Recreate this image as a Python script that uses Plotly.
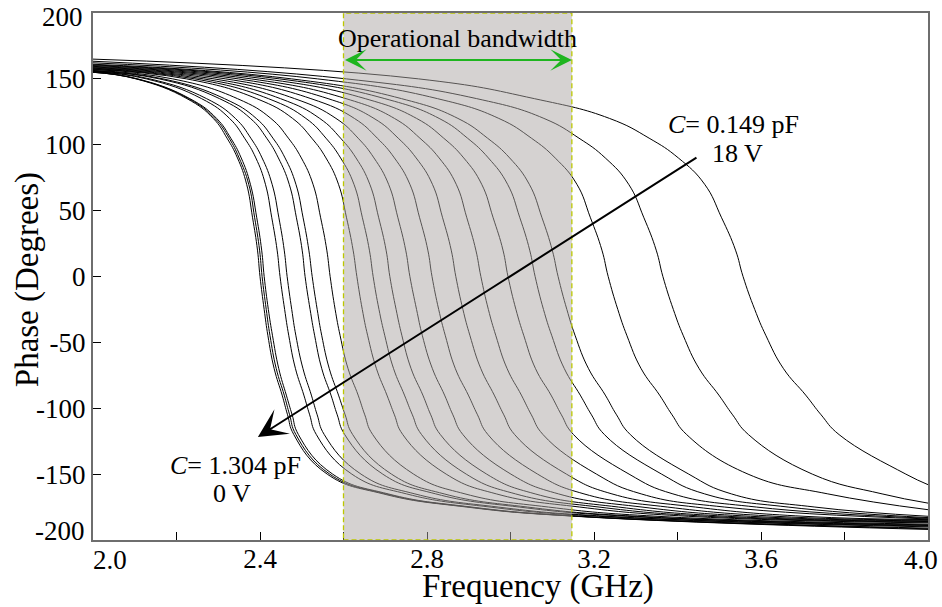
import plotly.graph_objects as go

# Phase response of the tunable cell, one curve per bias step (0 V ... 18 V).
# Each curve is listed as (frequency in GHz, phase in degrees) samples.
freq_ghz = [
    [2.0, 2.103, 2.225, 2.288, 2.321, 2.346, 2.368, 2.382, 2.394, 2.400, 2.410, 2.419, 2.434, 2.453, 2.466, 2.481, 2.561, 2.695, 2.895, 3.155, 4.0],
    [2.0, 2.105, 2.229, 2.292, 2.326, 2.350, 2.373, 2.387, 2.399, 2.405, 2.415, 2.424, 2.439, 2.458, 2.471, 2.486, 2.567, 2.701, 2.901, 3.161, 4.0],
    [2.0, 2.107, 2.232, 2.296, 2.330, 2.355, 2.377, 2.392, 2.404, 2.410, 2.420, 2.430, 2.445, 2.463, 2.477, 2.492, 2.574, 2.707, 2.907, 3.167, 4.0],
    [2.0, 2.128, 2.260, 2.327, 2.363, 2.390, 2.413, 2.428, 2.441, 2.448, 2.459, 2.469, 2.485, 2.505, 2.519, 2.535, 2.620, 2.751, 2.951, 3.211, 4.0],
    [2.0, 2.136, 2.272, 2.341, 2.378, 2.405, 2.429, 2.445, 2.458, 2.465, 2.476, 2.486, 2.503, 2.523, 2.537, 2.554, 2.642, 2.771, 2.971, 3.231, 4.0],
    [2.0, 2.159, 2.303, 2.377, 2.416, 2.444, 2.470, 2.487, 2.501, 2.508, 2.520, 2.531, 2.548, 2.570, 2.585, 2.603, 2.694, 2.821, 3.021, 3.281, 4.0],
    [2.0, 2.168, 2.315, 2.391, 2.431, 2.460, 2.486, 2.503, 2.517, 2.525, 2.537, 2.548, 2.566, 2.588, 2.604, 2.622, 2.715, 2.841, 3.041, 3.301, 4.0],
    [2.0, 2.191, 2.346, 2.426, 2.468, 2.499, 2.527, 2.545, 2.560, 2.568, 2.580, 2.592, 2.611, 2.635, 2.651, 2.670, 2.768, 2.891, 3.091, 3.351, 4.0],
    [2.0, 2.224, 2.392, 2.478, 2.524, 2.558, 2.588, 2.607, 2.623, 2.632, 2.645, 2.658, 2.679, 2.704, 2.722, 2.742, 2.846, 2.966, 3.166, 3.426, 4.0],
    [2.0, 2.244, 2.420, 2.510, 2.558, 2.593, 2.625, 2.645, 2.662, 2.671, 2.685, 2.699, 2.720, 2.746, 2.765, 2.787, 2.894, 3.012, 3.212, 3.472, 4.0],
    [2.0, 2.265, 2.449, 2.543, 2.593, 2.630, 2.663, 2.684, 2.702, 2.711, 2.726, 2.740, 2.762, 2.790, 2.809, 2.832, 2.943, 3.059, 3.259, 3.519, 4.0],
    [2.0, 2.290, 2.483, 2.582, 2.635, 2.673, 2.708, 2.730, 2.749, 2.759, 2.775, 2.789, 2.813, 2.842, 2.862, 2.886, 3.001, 3.115, 3.315, 3.575, 4.0],
    [2.0, 2.318, 2.522, 2.626, 2.681, 2.722, 2.759, 2.782, 2.802, 2.812, 2.828, 2.844, 2.868, 2.899, 2.921, 2.946, 3.065, 3.176, 3.376, 3.636, 4.0],
    [2.0, 2.348, 2.563, 2.673, 2.731, 2.774, 2.813, 2.837, 2.858, 2.869, 2.886, 2.903, 2.929, 2.961, 2.984, 3.010, 3.134, 3.243, 3.443, 3.703, 4.0],
    [2.0, 2.379, 2.606, 2.722, 2.783, 2.829, 2.870, 2.895, 2.917, 2.929, 2.947, 2.965, 2.992, 3.026, 3.050, 3.078, 3.206, 3.313, 3.513, 4.0],
    [2.0, 2.413, 2.652, 2.775, 2.840, 2.888, 2.931, 2.958, 2.982, 2.994, 3.013, 3.032, 3.060, 3.097, 3.122, 3.151, 3.284, 3.389, 3.589, 4.0],
    [2.0, 2.447, 2.699, 2.829, 2.897, 2.947, 2.993, 3.022, 3.046, 3.059, 3.079, 3.099, 3.129, 3.167, 3.194, 3.225, 3.362, 3.465, 3.665, 4.0],
    [2.0, 2.476, 2.739, 2.874, 2.945, 2.998, 3.045, 3.075, 3.100, 3.114, 3.135, 3.155, 3.187, 3.227, 3.254, 3.287, 3.427, 3.529, 3.729, 4.0],
    [2.0, 2.538, 2.825, 2.972, 3.050, 3.107, 3.159, 3.191, 3.219, 3.234, 3.257, 3.279, 3.313, 3.357, 3.387, 3.422, 3.569, 3.760, 4.0],
    [2.0, 2.607, 2.919, 3.080, 3.164, 3.227, 3.283, 3.319, 3.349, 3.365, 3.390, 3.414, 3.452, 3.499, 3.532, 3.570, 3.723, 3.890, 4.0],
    [2.0, 2.780, 3.057, 3.237, 3.332, 3.402, 3.465, 3.505, 3.539, 3.557, 3.585, 3.612, 3.654, 3.707, 3.744, 3.787, 3.947, 4.0],
]

phase_deg = [
    [155.0, 150, 135, 120, 105, 90, 70, 45, 20, 0, -25, -45, -70, -90, -105, -120, -150, -165, -175, -182, -192.0],
    [155.0, 150, 135, 120, 105, 90, 70, 45, 20, 0, -25, -45, -70, -90, -105, -120, -150, -165, -175, -182, -191.5],
    [155.1, 150, 135, 120, 105, 90, 70, 45, 20, 0, -25, -45, -70, -90, -105, -120, -150, -165, -175, -182, -191.0],
    [155.4, 150, 135, 120, 105, 90, 70, 45, 20, 0, -25, -45, -70, -90, -105, -120, -150, -165, -175, -182, -190.0],
    [155.6, 150, 135, 120, 105, 90, 70, 45, 20, 0, -25, -45, -70, -90, -105, -120, -150, -165, -175, -182, -189.5],
    [155.9, 150, 135, 120, 105, 90, 70, 45, 20, 0, -25, -45, -70, -90, -105, -120, -150, -165, -175, -182, -189.0],
    [156.1, 150, 135, 120, 105, 90, 70, 45, 20, 0, -25, -45, -70, -90, -105, -120, -150, -165, -175, -182, -188.5],
    [156.4, 150, 135, 120, 105, 90, 70, 45, 20, 0, -25, -45, -70, -90, -105, -120, -150, -165, -175, -182, -188.0],
    [157.0, 150, 135, 120, 105, 90, 70, 45, 20, 0, -25, -45, -70, -90, -105, -120, -150, -165, -175, -182, -187.0],
    [157.3, 150, 135, 120, 105, 90, 70, 45, 20, 0, -25, -45, -70, -90, -105, -120, -150, -165, -175, -182, -186.5],
    [157.7, 150, 135, 120, 105, 90, 70, 45, 20, 0, -25, -45, -70, -90, -105, -120, -150, -165, -175, -182, -186.0],
    [158.1, 150, 135, 120, 105, 90, 70, 45, 20, 0, -25, -45, -70, -90, -105, -120, -150, -165, -175, -182, -185.5],
    [158.5, 150, 135, 120, 105, 90, 70, 45, 20, 0, -25, -45, -70, -90, -105, -120, -150, -165, -175, -182, -185.0],
    [159.0, 150, 135, 120, 105, 90, 70, 45, 20, 0, -25, -45, -70, -90, -105, -120, -150, -165, -175, -182, -184.5],
    [159.5, 150, 135, 120, 105, 90, 70, 45, 20, 0, -25, -45, -70, -90, -105, -120, -150, -165, -175, -184.0],
    [160.1, 150, 135, 120, 105, 90, 70, 45, 20, 0, -25, -45, -70, -90, -105, -120, -150, -165, -175, -183.5],
    [160.6, 150, 135, 120, 105, 90, 70, 45, 20, 0, -25, -45, -70, -90, -105, -120, -150, -165, -175, -183.0],
    [161.1, 150, 135, 120, 105, 90, 70, 45, 20, 0, -25, -45, -70, -90, -105, -120, -150, -165, -175, -182.0],
    [162.2, 150, 135, 120, 105, 90, 70, 45, 20, 0, -25, -45, -70, -90, -105, -120, -150, -165, -177.0],
    [163.4, 150, 135, 120, 105, 90, 70, 45, 20, 0, -25, -45, -70, -90, -105, -120, -150, -165, -172.0],
    [165.0, 150, 135, 120, 105, 90, 70, 45, 20, 0, -25, -45, -70, -90, -105, -120, -150, -158.0],
]

# Operational band limits (GHz)
band_start = 2.6
band_end = 3.147

# Axis ticks; the corner labels (2.0, 4.0, -200, 200) are placed separately
# so they stay clear of each other and inside the page.
x_tick_vals = [2.0, 2.2, 2.4, 2.6, 2.8, 3.0, 3.2, 3.4, 3.6, 3.8, 4.0]
x_tick_text = ["", "", "2.4", "", "2.8", "", "3.2", "", "3.6", "", ""]
x_first_label = "2.0"
x_last_label = "4.0"
y_tick_vals = [-200, -150, -100, -50, 0, 50, 100, 150, 200]
y_tick_text = ["", "-150", "-100", "-50", "0", "50", "100", "150", ""]
y_bottom_label = "-200"
y_top_label = "200"

# Capacitance / bias labels at both ends of the sweep
high_bias_label = ["<i>C</i>= 0.149 pF", "18 V"]
low_bias_label = ["<i>C</i>= 1.304 pF", "0 V"]

SERIF = "Liberation Serif"
text_font = dict(family=SERIF, size=26, color="black")
tick_font = dict(family=SERIF, size=27, color="black")
title_font = dict(family=SERIF, size=33, color="black")

fig = go.Figure()
for f, p in zip(freq_ghz, phase_deg):
    fig.add_trace(go.Scatter(
        x=f, y=p, mode="lines",
        line=dict(color="black", width=1, shape="spline", smoothing=1.3),
        hoverinfo="skip", showlegend=False,
    ))

# Translucent band over the curves, dashed yellow edges
fig.add_shape(
    type="rect", xref="x", yref="y",
    x0=band_start, x1=band_end, y0=-200, y1=200,
    fillcolor="rgba(172,166,163,0.5)",
    line=dict(color="#bcc800", width=1.3, dash="5px,3px"),
    layer="above",
)

centered = dict(xanchor="center", yanchor="middle", showarrow=False)

annotations = [
    dict(x=(band_start + band_end) / 2, y=181, xref="x", yref="y",
         text="Operational bandwidth", font=text_font, **centered),
    dict(x=band_end, y=164.3, ax=band_start, ay=164.3,
         xref="x", yref="y", axref="x", ayref="y",
         text="", showarrow=True, arrowhead=3, arrowside="end+start",
         arrowsize=1.8, arrowwidth=2, arrowcolor="#1fb51f"),
    dict(x=2.395, y=-121.8, ax=3.449, ay=90.9,
         xref="x", yref="y", axref="x", ayref="y",
         text="", showarrow=True, arrowhead=3,
         arrowsize=2.4, arrowwidth=2, arrowcolor="black"),
    dict(x=3.533, y=115, xref="x", yref="y", text=high_bias_label[0],
         font=text_font, **centered),
    dict(x=3.543, y=93, xref="x", yref="y", text=high_bias_label[1],
         font=text_font, **centered),
    dict(x=2.3425, y=-143.8, xref="x", yref="y", text=low_bias_label[0],
         font=text_font, **centered),
    dict(x=2.333, y=-165, xref="x", yref="y", text=low_bias_label[1],
         font=text_font, **centered),
    dict(x=0.533, y=-0.0873, xref="paper", yref="paper",
         text="Frequency (GHz)", font=title_font, **centered),
    dict(x=-0.079, y=0.493, xref="paper", yref="paper",
         text="Phase (Degrees)", textangle=-90, font=title_font, **centered),
    # corner tick labels
    dict(x=0.0, y=-0.038, xref="paper", yref="paper", text=x_first_label,
         xanchor="center", yanchor="middle", xshift=17, showarrow=False, font=tick_font),
    dict(x=1.0, y=-0.038, xref="paper", yref="paper", text=x_last_label,
         xanchor="right", yanchor="middle", xshift=12, showarrow=False, font=tick_font),
    dict(x=0.0, y=0.0, xref="paper", yref="paper", text=y_bottom_label,
         xanchor="right", yanchor="middle", xshift=-6, yshift=9, showarrow=False, font=tick_font),
    dict(x=0.0, y=1.0, xref="paper", yref="paper", text=y_top_label,
         xanchor="right", yanchor="top", xshift=-8, yshift=13, showarrow=False, font=tick_font),
]

axis_common = dict(
    showgrid=False, zeroline=False, automargin=False,
    ticks="inside", ticklen=8, tickwidth=1, tickcolor="black",
    showline=True, linecolor="#6e6e6e", linewidth=2, mirror=True,
    tickfont=tick_font,
)

fig.update_layout(
    width=942, height=607,
    margin=dict(l=93, r=14, t=13, b=67),
    paper_bgcolor="white", plot_bgcolor="white",
    font=dict(family=SERIF, color="black"),
    xaxis=dict(range=[2.0, 4.0], tickvals=x_tick_vals, ticktext=x_tick_text,
               ticklabelstandoff=-6, **axis_common),
    yaxis=dict(range=[-200, 200], tickvals=y_tick_vals, ticktext=y_tick_text, **axis_common),
    annotations=annotations,
    showlegend=False,
)

fig.write_html("out.html")
